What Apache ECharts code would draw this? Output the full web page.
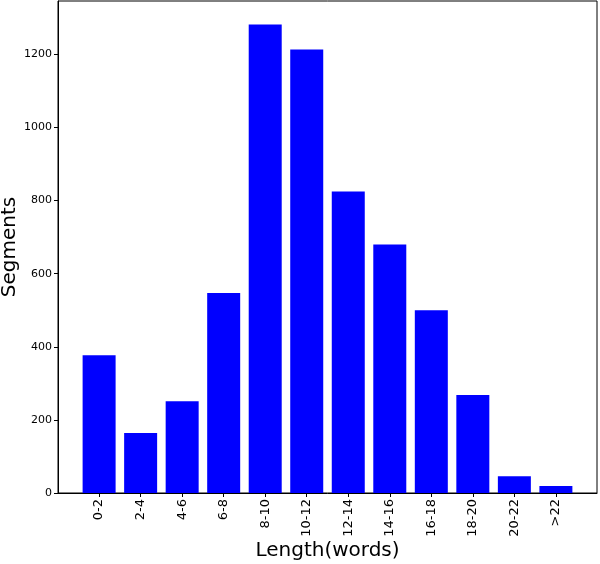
<!DOCTYPE html>
<html>
<head>
<meta charset="utf-8">
<script src="https://cdn.jsdelivr.net/npm/echarts@6/dist/echarts.min.js"></script>
<style>html,body{margin:0;padding:0;background:#fff}#c{width:600px;height:564px}</style>
</head>
<body>
<div id="c"></div>
<script>
var categories = ['0-2','2-4','4-6','6-8','8-10','10-12','12-14','14-16','16-18','18-20','20-22','>22'];
var segments = [377, 164, 251, 547, 1282, 1213, 825, 680, 500, 268, 46, 19];
var yTicks = [0, 200, 400, 600, 800, 1000, 1200];
var xLabel = 'Length(words)';
var yLabel = 'Segments';

var positions = categories.map(function (c, i) { return i; });
var chart = echarts.init(document.getElementById('c'), null, {renderer: 'canvas'});
var font = 'DejaVu Sans';
chart.setOption({
  animation: false,
  grid: {left: 58, right: 3, top: 1, bottom: 71, containLabel: false, outerBoundsMode: 'none',
         show: true, borderColor: '#000', borderWidth: 1, backgroundColor: 'transparent'},
  xAxis: {
    type: 'value', min: -0.99, max: 11.99,
    name: xLabel, nameLocation: 'middle', nameGap: 48, nameMoveOverlap: false,
    nameTextStyle: {fontFamily: font, fontSize: 20, color: '#000'},
    axisLine: {show: true, onZero: false, lineStyle: {color: '#000', width: 1}},
    axisTick: {show: true, length: 4, inside: false, customValues: positions, lineStyle: {color: '#000'}},
    splitLine: {show: false},
    axisLabel: {
      customValues: positions, rotate: 90, margin: 6,
      fontFamily: font, fontSize: 13, color: '#000',
      formatter: function (v) { return categories[Math.round(v)]; }
    }
  },
  yAxis: {
    type: 'value', min: 0, max: 1346,
    name: yLabel, nameLocation: 'middle', nameGap: 38, nameMoveOverlap: false,
    nameTextStyle: {fontFamily: font, fontSize: 20, color: '#000'},
    axisLine: {show: true, onZero: false, lineStyle: {color: '#000', width: 1}},
    axisTick: {show: true, length: 4, customValues: yTicks, lineStyle: {color: '#000'}},
    splitLine: {show: false},
    axisLabel: {customValues: yTicks, margin: 6, fontFamily: font, fontSize: 11, color: '#000',
      formatter: function (v) { return String(v); }}
  },
  series: [{
    type: 'bar',
    data: positions.map(function (p, i) { return [p, segments[i]]; }),
    barWidth: 33,
    itemStyle: {color: '#0000ff'}
  }]
});
</script>
</body>
</html>
